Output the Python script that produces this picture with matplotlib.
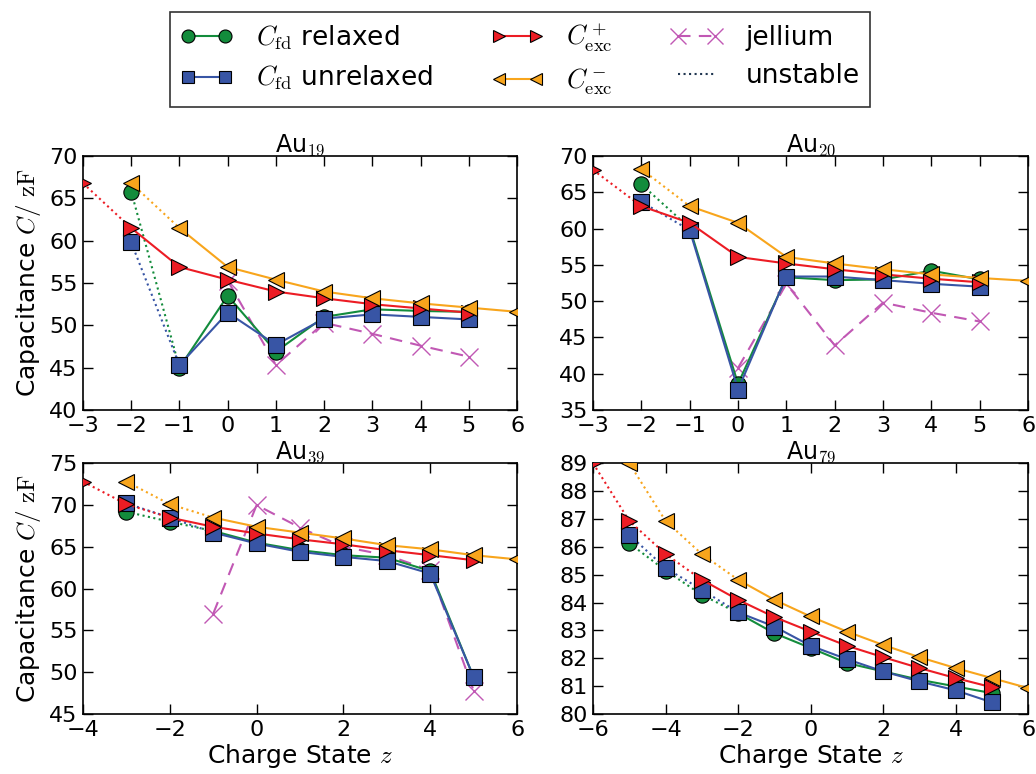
import matplotlib
matplotlib.use("Agg")
import matplotlib.pyplot as plt
from matplotlib.lines import Line2D

plt.rcParams['mathtext.fontset'] = 'cm'
plt.rcParams['font.family'] = ['DejaVu Sans']

# colours
c_rel = "#138c3c"
c_unrel = "#3855a5"
c_plus = "#ec1c24"
c_minus = "#f8a51c"
c_jel = "#c158b4"
c_unst = "#1f3550"

# ---- Au19 ----
au19_z_fd = [-2, -1, 0, 1, 2, 3, 4, 5]
au19_relaxed = [65.8, 45.0, 53.5, 46.9, 51.0, 51.9, 51.7, 51.6]
au19_unrelaxed = [59.8, 45.3, 51.5, 47.7, 50.8, 51.3, 51.0, 50.7]
au19_z_plus = [-3, -2, -1, 0, 1, 2, 3, 4, 5]
au19_plus = [66.8, 61.5, 56.9, 55.4, 54.0, 53.2, 52.5, 52.0, 51.5]
au19_z_minus = [-2, -1, 0, 1, 2, 3, 4, 5, 6]
au19_minus = [66.8, 61.5, 56.9, 55.4, 54.0, 53.2, 52.6, 52.1, 51.6]
au19_z_jel = [0, 1, 2, 3, 4, 5]
au19_jel = [55.3, 45.3, 50.3, 49.0, 47.6, 46.3]

# ---- Au20 ----
au20_z_fd = [-2, -1, 0, 1, 2, 3, 4, 5]
au20_relaxed = [66.1, 60.1, 38.6, 53.3, 52.9, 53.0, 54.2, 53.0]
au20_unrelaxed = [63.7, 59.8, 37.8, 53.4, 53.4, 52.9, 52.4, 52.0]
au20_z_plus = [-3, -2, -1, 0, 1, 2, 3, 4, 5]
au20_plus = [68.1, 63.1, 60.8, 56.1, 55.2, 54.4, 53.7, 53.1, 52.6]
au20_z_minus = [-2, -1, 0, 1, 2, 3, 4, 5, 6]
au20_minus = [68.2, 63.1, 60.8, 56.1, 55.2, 54.4, 53.7, 53.2, 52.8]
au20_z_jel = [0, 1, 2, 3, 4, 5]
au20_jel = [40.8, 52.4, 43.9, 49.8, 48.4, 47.2]

# ---- Au39 ----
au39_z_fd = [-3, -2, -1, 0, 1, 2, 3, 4, 5]
au39_relaxed = [69.2, 68.0, 66.9, 65.5, 64.6, 64.0, 63.7, 62.1, 49.4]
au39_unrelaxed = [70.2, 68.5, 66.7, 65.4, 64.4, 63.8, 63.3, 61.8, 49.4]
au39_z_plus = [-4, -3, -2, -1, 0, 1, 2, 3, 4, 5]
au39_plus = [72.8, 70.1, 68.5, 67.4, 66.6, 65.9, 65.3, 64.6, 64.0, 63.4]
au39_z_minus = [-3, -2, -1, 0, 1, 2, 3, 4, 5, 6]
au39_minus = [72.8, 70.1, 68.5, 67.4, 66.7, 66.0, 65.2, 64.7, 64.0, 63.5]
au39_z_jel = [-1, 0, 1, 2, 3, 4, 5]
au39_jel = [57.0, 70.0, 67.3, 65.0, 64.0, 62.2, 47.8]

# ---- Au79 ----
au79_z_fd = [-5, -4, -3, -2, -1, 0, 1, 2, 3, 4, 5]
au79_relaxed = [86.13, 85.15, 84.28, 83.62, 82.90, 82.37, 81.83, 81.53, 81.23, 80.99, 80.75]
au79_unrelaxed = [86.43, 85.24, 84.46, 83.65, 83.14, 82.45, 81.97, 81.53, 81.17, 80.85, 80.42]
au79_z_plus = [-6, -5, -4, -3, -2, -1, 0, 1, 2, 3, 4, 5]
au79_plus = [89.0, 86.93, 85.74, 84.82, 84.10, 83.48, 82.96, 82.45, 82.04, 81.65, 81.29, 80.96]
au79_z_minus = [-5, -4, -3, -2, -1, 0, 1, 2, 3, 4, 5, 6]
au79_minus = [89.0, 86.93, 85.74, 84.82, 84.10, 83.50, 82.96, 82.48, 82.04, 81.65, 81.29, 80.93]

panels = [
    dict(name="19", fd=(au19_z_fd, au19_relaxed, au19_unrelaxed), plus=(au19_z_plus, au19_plus),
         minus=(au19_z_minus, au19_minus), jel=(au19_z_jel, au19_jel), stable=-1,
         xlim=(-3, 6), xticks=range(-3, 7), ylim=(40, 70), yticks=range(40, 71, 5)),
    dict(name="20", fd=(au20_z_fd, au20_relaxed, au20_unrelaxed), plus=(au20_z_plus, au20_plus),
         minus=(au20_z_minus, au20_minus), jel=(au20_z_jel, au20_jel), stable=-1,
         xlim=(-3, 6), xticks=range(-3, 7), ylim=(35, 70), yticks=range(35, 71, 5)),
    dict(name="39", fd=(au39_z_fd, au39_relaxed, au39_unrelaxed), plus=(au39_z_plus, au39_plus),
         minus=(au39_z_minus, au39_minus), jel=(au39_z_jel, au39_jel), stable=-1,
         xlim=(-4, 6), xticks=range(-4, 7, 2), ylim=(45, 75), yticks=range(45, 76, 5)),
    dict(name="79", fd=(au79_z_fd, au79_relaxed, au79_unrelaxed), plus=(au79_z_plus, au79_plus),
         minus=(au79_z_minus, au79_minus), jel=None, stable=-2,
         xlim=(-6, 6), xticks=range(-6, 7, 2), ylim=(80, 89), yticks=range(80, 90, 1)),
]

positions = [
    [0.0801, 0.4703, 0.419, 0.328],
    [0.5724, 0.4703, 0.42, 0.328],
    [0.0801, 0.0775, 0.419, 0.324],
    [0.5724, 0.0775, 0.42, 0.324],
]

ms = 11
lw = 1.5


def split_plot(ax, z, y, start, color, marker, zo):
    # dotted for the unstable part (z <= start), solid afterwards, markers on every point
    zu = [a for a in z if a <= start]
    yu = [b for a, b in zip(z, y) if a <= start]
    zs = [a for a in z if a >= start]
    ys = [b for a, b in zip(z, y) if a >= start]
    ax.plot(zu, yu, ls=':', color=color, lw=lw, zorder=zo)
    ax.plot(zs, ys, ls='-', color=color, lw=lw, zorder=zo)
    ax.plot(z, y, ls='none', marker=marker, ms=ms, mfc=color, mec='k', mew=0.8, zorder=zo + 0.5)


fig = plt.figure(figsize=(10.36, 7.74), dpi=100)

for i, p in enumerate(panels):
    ax = fig.add_axes(positions[i])
    st = p["stable"]
    if p["jel"] is not None:
        ax.plot(p["jel"][0], p["jel"][1], ls='--', dashes=(6, 4), marker='x', ms=13, mew=1.0,
                color=c_jel, lw=lw, zorder=2)
    zf, rel, unrel = p["fd"]
    split_plot(ax, zf, rel, st, c_rel, 'o', 3)
    split_plot(ax, zf, unrel, st, c_unrel, 's', 4)
    split_plot(ax, p["plus"][0], p["plus"][1], st - 1, c_plus, '>', 5)
    split_plot(ax, p["minus"][0], p["minus"][1], st, c_minus, '<', 6)

    ax.set_xlim(*p["xlim"])
    ax.set_ylim(*p["ylim"])
    ax.set_xticks(list(p["xticks"]))
    ax.set_yticks(list(p["yticks"]))
    ax.tick_params(direction='in', top=True, right=True, length=7, width=1,
                   labelsize=16, pad=4)
    for s in ax.spines.values():
        s.set_linewidth(1.2)
    ax.set_title(r'Au$_{' + p["name"] + '}$', fontsize=17, pad=3)
    if i % 2 == 0:
        ax.set_ylabel(r'Capacitance $C/\ \mathrm{zF}$', fontsize=18)
    if i >= 2:
        ax.set_xlabel(r'Charge State $z$', fontsize=18, labelpad=2)

handles = [
    Line2D([], [], color=c_rel, marker='o', ms=ms, mec='k', mew=0.8, lw=lw),
    Line2D([], [], color=c_unrel, marker='s', ms=ms, mec='k', mew=0.8, lw=lw),
    Line2D([], [], color=c_plus, marker='>', ms=ms, mec='k', mew=0.8, lw=lw),
    Line2D([], [], color=c_minus, marker='<', ms=ms, mec='k', mew=0.8, lw=lw),
    Line2D([], [], color=c_jel, marker='x', ms=13, mew=1.0, ls='--', dashes=(6, 4), lw=lw),
    Line2D([], [], color=c_unst, ls=':', lw=lw),
]
labels = [r'$C_{\rm fd}$ relaxed', r'$C_{\rm fd}$ unrelaxed', r'$C_{\rm exc}^+$',
          r'$C_{\rm exc}^-$', 'jellium', 'unstable']
leg = fig.legend(handles, labels, loc='upper center', bbox_to_anchor=(0.502, 0.985), ncol=3,
                 fontsize=19, numpoints=2, markerscale=0.85, handlelength=2.0,
                 handletextpad=0.85, columnspacing=2.2, labelspacing=0.45,
                 fancybox=False, edgecolor='k', borderpad=0.4, borderaxespad=0)
leg.get_frame().set_linewidth(1.2)

fig.savefig("out.png", dpi=100)
